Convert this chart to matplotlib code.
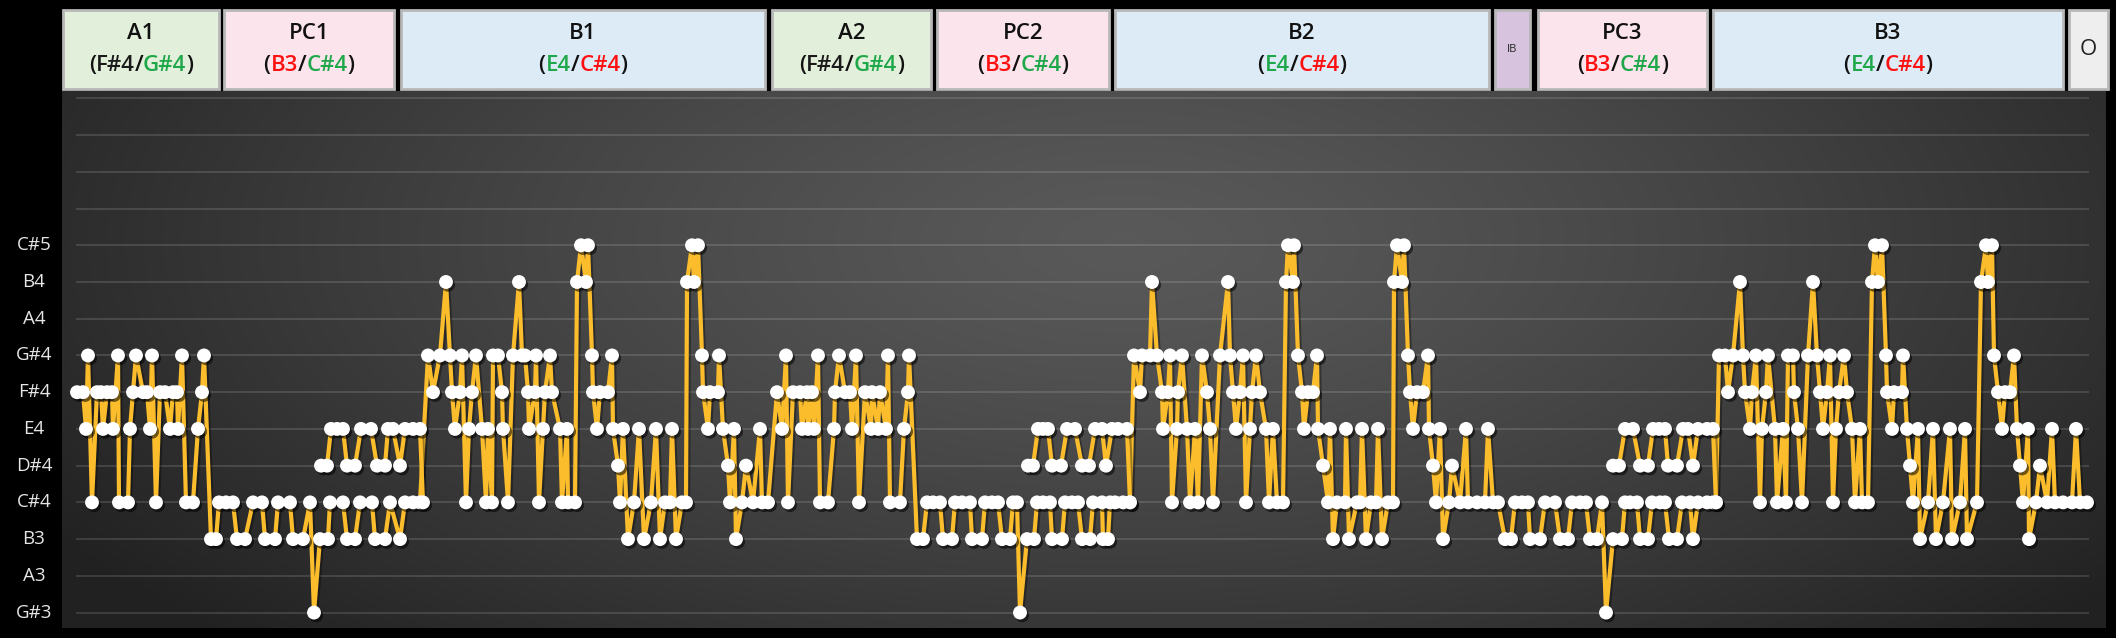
import numpy as np
import matplotlib
matplotlib.use("Agg")
import matplotlib.pyplot as plt
import matplotlib.patheffects as pe
from matplotlib.patches import Rectangle
from matplotlib.offsetbox import TextArea, HPacker, AnnotationBbox
from matplotlib.transforms import blended_transform_factory

plt.rcParams["font.family"] = ["Open Sans", "DejaVu Sans"]

NOTE_LABELS = ["G#3", "A3", "B3", "C#4", "D#4", "E4", "F#4", "G#4", "A4", "B4", "C#5"]
GRID_ROWS = 15

# onset (time ticks) and note for every melody point, per section
A1_T = [0, 6, 9, 11, 15, 20, 24, 26, 30, 35, 36, 41, 42, 51, 53, 56, 59,
        66, 70, 73, 75, 79, 83, 88, 93, 96, 100, 101, 105, 109, 116, 121, 125, 127]
A1_N = ["F#4", "F#4", "E4", "G#4", "C#4", "F#4", "F#4", "E4", "F#4", "F#4", "E4", "G#4", "C#4", "C#4", "E4", "F#4", "G#4",
        "F#4", "F#4", "E4", "G#4", "C#4", "F#4", "F#4", "E4", "F#4", "F#4", "E4", "G#4", "C#4", "C#4", "E4", "F#4", "G#4"]

PC1_T = [134, 139, 142, 149, 156, 160, 168, 176, 185, 188, 198, 201, 213, 216, 226, 233,
         237, 243, 251, 253, 266, 270, 278, 283, 295, 298, 308, 313, 323, 328, 336, 343]
PC1_N = ["B3", "B3", "C#4", "C#4", "C#4", "B3", "B3", "C#4", "C#4", "B3", "B3", "C#4", "C#4", "B3", "B3", "C#4",
         "G#3", "B3", "B3", "C#4", "C#4", "B3", "B3", "C#4", "C#4", "B3", "B3", "C#4", "B3", "C#4", "C#4", "C#4"]

B1_T = [351, 356, 363, 369, 373, 375, 378, 383, 385, 389, 392, 395, 399, 405, 409, 411, 415, 416, 421, 425,
        426, 431, 436, 442, 445, 448, 451, 452, 458, 459, 462, 466, 468, 473, 475, 483, 485, 490, 491, 498,
        500, 504, 509, 511, 515, 516, 520, 523, 531, 535, 536, 541, 543, 546, 551, 557, 562, 567, 574, 579,
        583, 588, 593, 595, 599, 605, 609, 610, 615, 617, 621, 625, 626, 631, 633, 641, 642, 646, 651, 653,
        657, 659, 665, 669, 676, 683, 685, 691]
B1_N = ["G#4", "F#4", "G#4", "B4", "G#4", "F#4", "E4", "F#4", "G#4", "C#4", "E4", "F#4", "G#4", "E4", "C#4", "E4", "C#4", "G#4", "G#4", "F#4",
        "E4", "C#4", "G#4", "B4", "G#4", "G#4", "F#4", "E4", "F#4", "G#4", "C#4", "E4", "F#4", "G#4", "F#4", "E4", "C#4", "E4", "C#4", "C#4",
        "B4", "C#5", "B4", "C#5", "G#4", "F#4", "E4", "F#4", "F#4", "G#4", "E4", "D#4", "C#4", "E4", "B3", "C#4", "E4", "B3", "C#4", "E4",
        "B3", "C#4", "C#4", "E4", "B3", "C#4", "C#4", "B4", "C#5", "B4", "C#5", "G#4", "F#4", "E4", "F#4", "F#4", "G#4", "E4", "D#4", "C#4",
        "E4", "B3", "C#4", "D#4", "C#4", "E4", "C#4", "C#4"]

A2_T = [700, 705, 709, 711, 716, 723, 725, 730, 731, 735, 737, 741, 743, 751, 757, 758, 762,
        768, 773, 775, 779, 782, 788, 794, 795, 801, 803, 809, 811, 813, 823, 827, 831, 832]
A2_N = ["F#4", "E4", "G#4", "C#4", "F#4", "F#4", "E4", "F#4", "E4", "F#4", "E4", "G#4", "C#4", "C#4", "E4", "F#4", "G#4",
        "F#4", "F#4", "E4", "G#4", "C#4", "F#4", "E4", "F#4", "E4", "F#4", "E4", "G#4", "C#4", "C#4", "E4", "F#4", "G#4"]

PC2_T = [840, 846, 850, 856, 863, 866, 875, 878, 885, 893, 895, 905, 908, 915, 921, 925, 933, 936, 940, 943,
         950, 957, 960, 966, 973, 975, 985, 988, 995, 1001, 1005, 1013, 1016, 1025, 1026, 1031, 1033, 1038, 1046, 1053]
PC2_N = ["B3", "B3", "C#4", "C#4", "C#4", "B3", "B3", "C#4", "C#4", "C#4", "B3", "B3", "C#4", "C#4", "C#4", "B3", "B3", "C#4", "C#4", "G#3",
         "B3", "B3", "C#4", "C#4", "C#4", "B3", "B3", "C#4", "C#4", "C#4", "B3", "B3", "C#4", "C#4", "B3", "B3", "C#4", "C#4", "C#4", "C#4"]

B2_T = [1057, 1063, 1065, 1073, 1075, 1080, 1085, 1086, 1091, 1093, 1095, 1100, 1101, 1105, 1110, 1113, 1118, 1121, 1125, 1130,
        1133, 1136, 1143, 1151, 1153, 1156, 1159, 1163, 1166, 1169, 1173, 1175, 1179, 1183, 1189, 1192, 1196, 1200, 1206, 1209,
        1211, 1216, 1217, 1221, 1225, 1227, 1231, 1236, 1240, 1241, 1246, 1251, 1253, 1256, 1260, 1268, 1269, 1272, 1280, 1283,
        1285, 1289, 1294, 1299, 1301, 1305, 1311, 1316, 1317, 1320, 1325, 1327, 1331, 1333, 1336, 1340, 1346, 1351, 1352, 1356,
        1359, 1363, 1366, 1372, 1375, 1383, 1389, 1391, 1400, 1408, 1411, 1416, 1421]
B2_N = ["G#4", "F#4", "G#4", "G#4", "B4", "G#4", "F#4", "E4", "F#4", "G#4", "C#4", "E4", "F#4", "G#4", "E4", "C#4", "E4", "C#4", "G#4", "F#4",
        "E4", "C#4", "G#4", "B4", "G#4", "F#4", "E4", "F#4", "G#4", "C#4", "E4", "F#4", "G#4", "F#4", "E4", "C#4", "E4", "C#4", "C#4", "B4",
        "C#5", "B4", "C#5", "G#4", "F#4", "E4", "F#4", "F#4", "G#4", "E4", "D#4", "C#4", "E4", "B3", "C#4", "C#4", "E4", "B3", "C#4", "C#4",
        "E4", "B3", "C#4", "C#4", "E4", "B3", "C#4", "C#4", "B4", "C#5", "B4", "C#5", "G#4", "F#4", "E4", "F#4", "F#4", "G#4", "E4", "D#4",
        "C#4", "E4", "B3", "C#4", "D#4", "C#4", "E4", "C#4", "C#4", "C#4", "E4", "C#4", "C#4"]

# interlude + third pre-chorus
PC3_T = [1428, 1434, 1438, 1445, 1451, 1453, 1463, 1468, 1478, 1483, 1491, 1495, 1503, 1509, 1513, 1520, 1525, 1529, 1536, 1545,
         1548, 1553, 1560, 1563, 1571, 1575, 1583, 1588, 1592, 1600, 1605, 1613, 1616, 1621, 1630, 1636, 1639]
PC3_N = ["B3", "B3", "C#4", "C#4", "C#4", "B3", "B3", "C#4", "C#4", "B3", "B3", "C#4", "C#4", "C#4", "B3", "B3", "C#4", "G#3", "B3", "B3",
         "C#4", "C#4", "C#4", "B3", "B3", "C#4", "C#4", "C#4", "B3", "B3", "C#4", "C#4", "B3", "C#4", "C#4", "C#4", "C#4"]

B3_T = [1642, 1648, 1651, 1656, 1663, 1666, 1668, 1673, 1675, 1679, 1683, 1685, 1689, 1691, 1698, 1700, 1706, 1709, 1711, 1716,
        1717, 1721, 1725, 1731, 1736, 1740, 1743, 1746, 1750, 1753, 1756, 1759, 1762, 1767, 1770, 1775, 1778, 1783, 1785, 1791,
        1795, 1798, 1801, 1805, 1809, 1810, 1815, 1817, 1825, 1826, 1830, 1833, 1836, 1841, 1843, 1851, 1856, 1859, 1866, 1873,
        1875, 1883, 1888, 1890, 1900, 1904, 1909, 1911, 1915, 1917, 1921, 1925, 1928, 1933, 1937, 1940, 1943, 1946, 1951, 1952,
        1959, 1963, 1970, 1975, 1978, 1986, 1995, 1999, 2003, 2010]
B3_N = ["G#4", "G#4", "F#4", "G#4", "B4", "G#4", "F#4", "E4", "F#4", "G#4", "C#4", "E4", "F#4", "G#4", "E4", "C#4", "E4", "C#4", "G#4", "G#4",
        "F#4", "E4", "C#4", "G#4", "B4", "G#4", "F#4", "E4", "F#4", "G#4", "C#4", "E4", "F#4", "G#4", "F#4", "E4", "C#4", "E4", "C#4", "C#4",
        "B4", "C#5", "B4", "C#5", "G#4", "F#4", "E4", "F#4", "F#4", "G#4", "E4", "D#4", "C#4", "E4", "B3", "C#4", "E4", "B3", "C#4", "E4",
        "B3", "C#4", "E4", "B3", "C#4", "B4", "C#5", "B4", "C#5", "G#4", "F#4", "E4", "F#4", "F#4", "G#4", "E4", "D#4", "C#4", "E4", "B3",
        "C#4", "D#4", "C#4", "E4", "C#4", "C#4", "C#4", "E4", "C#4", "C#4"]

# harmony voice in the pre-choruses
H1_T = [244, 250, 254, 260, 266, 270, 278, 284, 294, 300, 308, 311, 316, 323, 328, 336, 343, 346]
H1_N = ["D#4", "D#4", "E4", "E4", "E4", "D#4", "D#4", "E4", "E4", "D#4", "D#4", "E4", "E4", "D#4", "E4", "E4", "E4", "C#4"]
H2_T = [951, 956, 961, 966, 971, 975, 984, 990, 998, 1005, 1012, 1018, 1025, 1029, 1035, 1041, 1050, 1053]
H2_N = ["D#4", "D#4", "E4", "E4", "E4", "D#4", "D#4", "E4", "E4", "D#4", "D#4", "E4", "E4", "D#4", "E4", "E4", "E4", "C#4"]
H3_T = [1536, 1542, 1548, 1556, 1563, 1571, 1576, 1582, 1588, 1591, 1600, 1606, 1611, 1616, 1621, 1630, 1636, 1639]
H3_N = ["D#4", "D#4", "E4", "E4", "D#4", "D#4", "E4", "E4", "E4", "D#4", "D#4", "E4", "E4", "D#4", "E4", "E4", "E4", "C#4"]

SECTION_NAMES = ["A1", "PC1", "B1", "A2", "PC2", "B2", "IB", "PC3", "B3", "O"]
SECTION_START = [-14, 147, 324, 695, 860, 1038, 1418, 1461, 1636, 1992]
SECTION_END = [142, 317, 688, 854, 1032, 1412, 1453, 1630, 1986, 2031]
SECTION_PAIRS = [("F#4", "G#4"), ("B3", "C#4"), ("E4", "C#4"), ("F#4", "G#4"), ("B3", "C#4"),
                 ("E4", "C#4"), None, ("B3", "C#4"), ("E4", "C#4"), None]

FILL = {"A": "#e2efda", "P": "#fce4ec", "B": "#ddebf7", "I": "#d8c3de", "O": "#eeeeee"}
GREEN, RED = "#1fa84a", "#ff1010"
PAIR_COLORS = {"A": ("#1a1a1a", GREEN), "P": (RED, GREEN), "B": (GREEN, RED)}

LINE_COLOR = "#fbbd2c"

W, H = 2116, 638
fig = plt.figure(figsize=(W / 100, H / 100), dpi=100, facecolor="black")
rect = [62 / W, 10 / H, 2044 / W, 537 / H]

# radial gradient background of the chart area
bg = fig.add_axes(rect, zorder=0)
yy, xx = np.mgrid[0:1:300j, 0:1:900j]
r = np.sqrt(((xx - 0.52) / 0.62) ** 2 + ((yy - 0.72) / 1.05) ** 2)
shade = 0.35 - 0.22 * np.clip(r, 0, 1) ** 1.3
bg.imshow(np.dstack([shade] * 3), extent=[0, 1, 0, 1], origin="lower", aspect="auto")
bg.axis("off")

ax = fig.add_axes(rect, zorder=1)
ax.set_facecolor("none")
ax.set_xlim(-15, 2029)
ax.set_ylim(-0.42, 14.2)
ax.axis("off")

for lv in range(GRID_ROWS):
    ax.plot([0, 2011], [lv, lv], color="white", alpha=0.13, lw=1.5, zorder=1)

trans = blended_transform_factory(fig.transFigure, ax.transData)
for i, lab in enumerate(NOTE_LABELS):
    ax.text(34 / W, i, lab, transform=trans, ha="center", va="center",
            color="#e6e6e6", fontsize=13.5)

level = {n: i for i, n in enumerate(NOTE_LABELS)}
main_t = A1_T + PC1_T + B1_T + A2_T + PC2_T + B2_T + PC3_T + B3_T
main_n = A1_N + PC1_N + B1_N + A2_N + PC2_N + B2_N + PC3_N + B3_N
series = [(main_t, main_n), (H1_T, H1_N), (H2_T, H2_N), (H3_T, H3_N)]

for t, n in series:
    y = [level[v] for v in n]
    ax.plot(t, y, color=LINE_COLOR, lw=3.0, solid_joinstyle="round", zorder=3,
            path_effects=[pe.SimpleLineShadow(offset=(1.5, -1.5), shadow_color="black", alpha=0.35),
                          pe.Normal()])
for t, n in series:
    y = [level[v] for v in n]
    ax.plot(t, y, ls="none", marker="o", ms=10, mfc="white", mec="white", mew=0, zorder=4,
            path_effects=[pe.SimplePatchShadow(offset=(1.5, -2), shadow_rgbFace="black", alpha=0.55),
                          pe.Normal()])

# section header boxes
hax = fig.add_axes([62 / W, (H - 89) / H, 2044 / W, 79 / H], zorder=2)
hax.set_xlim(-15, 2029)
hax.set_ylim(0, 1)
hax.axis("off")

for name, s, e, pair in zip(SECTION_NAMES, SECTION_START, SECTION_END, SECTION_PAIRS):
    kind = name[0]
    hax.add_patch(Rectangle((s, 0), e - s, 1, facecolor=FILL[kind], edgecolor="#b8b8b8",
                            lw=2, clip_on=False))
    xc = (s + e) / 2
    if pair is None:
        hax.text(xc, 0.5, name, ha="center", va="center", color="#222222",
                 fontsize=8 if name == "IB" else 16)
        continue
    hax.text(xc, 0.70, name, ha="center", va="center", color="#111111",
             fontsize=16, fontweight="semibold")
    c1, c2 = PAIR_COLORS[kind]
    props = dict(fontsize=16, fontweight="semibold")
    parts = [TextArea("(", textprops=dict(color="#111111", **props)),
             TextArea(pair[0], textprops=dict(color=c1, **props)),
             TextArea("/", textprops=dict(color="#111111", **props)),
             TextArea(pair[1], textprops=dict(color=c2, **props)),
             TextArea(")", textprops=dict(color="#111111", **props))]
    box = HPacker(children=parts, align="baseline", pad=0, sep=0)
    hax.add_artist(AnnotationBbox(box, (xc, 0.30), xycoords="data", frameon=False,
                                  box_alignment=(0.5, 0.5), pad=0))

fig.savefig("out.png", dpi=100, facecolor="black")
